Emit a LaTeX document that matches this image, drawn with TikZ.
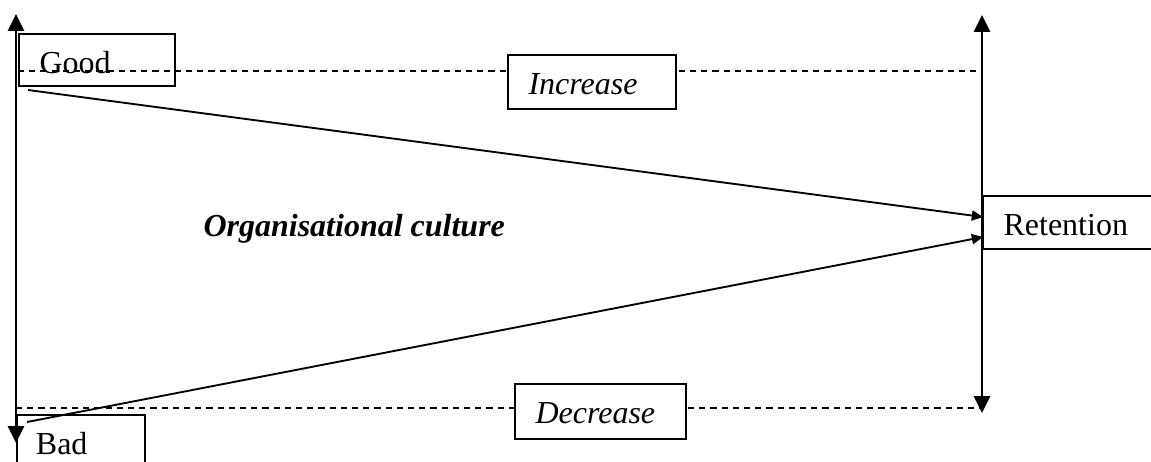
\documentclass[tikz,border=0pt]{standalone}
\usepackage{fontspec}
\setmainfont{Liberation Serif}
\usetikzlibrary{arrows.meta,positioning}

\tikzset{
  txtbox/.style={draw, line width=0.75pt, anchor=north west, inner xsep=7.7pt,
    inner ysep=4.8pt, text height=10pt, align=left, font=\fontsize{12}{14}\selectfont},
  dashline/.style={line width=0.75pt, dash pattern=on 2.3pt off 1.9pt},
  axis/.style={line width=0.8pt, {Triangle[length=6.3pt,width=6pt]}-{Triangle[length=6.3pt,width=6pt]}},
  link/.style={line width=0.7pt, -{Triangle[length=4.2pt,width=3.8pt]}}
}

\begin{document}
\begin{tikzpicture}[x=0.375pt, y=-0.375pt]
        \clip (0,0) rectangle (1151,461);
        % the two vertical scales
        \coordinate (ltop) at (16,14);
        \coordinate (lbot) at (16,443);
        \coordinate (rtop) at (982,15);
        \coordinate (rbot) at (982,413);
        \draw[axis] (lbot) -- (ltop);
        \draw[axis] (rbot) -- (rtop);
        % dashed levels
        \coordinate (hi west) at (18,71);
        \coordinate (hi east) at (982,71);
        \coordinate (lo west) at (16,408);
        \coordinate (lo east) at (982,408);
        \draw[dashline] (hi west) -- (hi east);
        \draw[dashline] (lo west) -- (lo east);
        % text boxes
        \node[txtbox, text width=43.1pt, text depth=0pt] (good) at (18,33) {Good};
        \node[txtbox, text width=33.7pt, text depth=5pt, inner xsep=7.1pt] (bad) at (16,414) {Bad};
        \node[txtbox, fill=white, text width=47.6pt, text depth=0.65pt] (inc) at (507,54) {\textit{Increase}};
        \node[txtbox, fill=white, text width=48.7pt, text depth=1pt] (dec) at (514,383) {\textit{Decrease}};
        \node[txtbox, text width=55.1pt, text depth=0.3pt] (ret) at (982,195) {Retention};
        \node[anchor=base west, inner sep=0pt, font=\fontsize{12}{14}\selectfont\bfseries\itshape]
          (culture) at (203,236) {Organisational culture};
        % links into retention
        \coordinate (good out) at (28,90);
        \coordinate (bad out) at (27,422);
        \coordinate (ret in a) at (983,217);
        \coordinate (ret in b) at (983,237);
        \draw[link] (good out) -- (ret in a);
        \draw[link] (bad out) -- (ret in b);
      \end{tikzpicture}
\end{document}
